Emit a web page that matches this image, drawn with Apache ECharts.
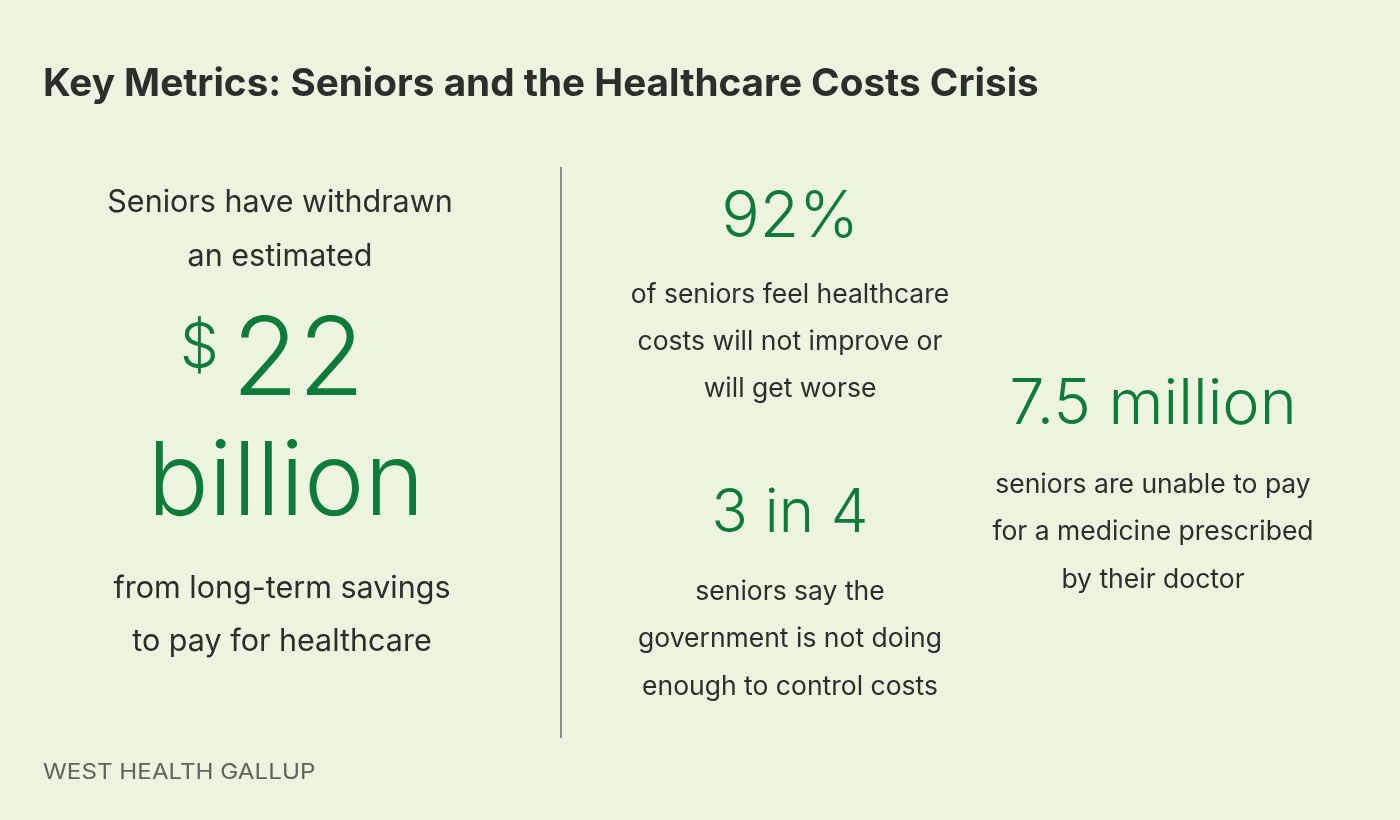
<!DOCTYPE html>
<html><head><meta charset="utf-8">
<script src="https://cdn.jsdelivr.net/npm/echarts@6/dist/echarts.min.js"></script>
<style>html,body{margin:0;padding:0;background:#ECF4DF}#c{width:1400px;height:820px}</style>
</head><body><div id="c"></div>
<script>
const title = 'Key Metrics: Seniors and the Healthcare Costs Crisis';
const source = 'WEST HEALTH GALLUP';
const savingsIntro = ['Seniors have withdrawn', 'an estimated'];
const savingsCurrency = '$';
const savingsValue = '22';
const savingsUnit = 'billion';
const savingsOutro = ['from long-term savings', 'to pay for healthcare'];
const pctValue = '92%';
const pctText = ['of seniors feel healthcare', 'costs will not improve or', 'will get worse'];
const ratioValue = '3 in 4';
const ratioText = ['seniors say the', 'government is not doing', 'enough to control costs'];
const countValue = '7.5 million';
const countText = ['seniors are unable to pay', 'for a medicine prescribed', 'by their doctor'];

const GREEN = '#0F7B3B', DARK = '#2B2E2B', FONT = 'Inter';
// place text by its baseline
function txt(x, base, s, size, color, weight, align, extra) {
  return Object.assign({ type: 'text', x: x, y: base - 0.85 * size + 2, style: { text: s, fill: color, font: (weight || 'normal') + ' ' + size + 'px ' + FONT, textAlign: align || 'center', verticalAlign: 'top' } }, extra || {});
}
const g = [];
g.push(txt(43, 96, title, 38.7, DARK, 'bold', 'left'));
savingsIntro.forEach((s, i) => g.push(txt(280, 211 + i * 54, s, 30.5, DARK)));
g.push(txt(219, 368, savingsCurrency, 62, GREEN, '300', 'right'));
g.push(txt(232, 398, savingsValue, 108, GREEN, '300', 'left'));
g.push(txt(286, 518, savingsUnit, 102, GREEN, '300'));
savingsOutro.forEach((s, i) => g.push(txt(282, 597 + i * 53, s, 30.5, DARK)));
g.push({ type: 'line', shape: { x1: 561, y1: 167, x2: 561, y2: 738 }, style: { stroke: '#8A9488', lineWidth: 2 } });
g.push(txt(790, 238, pctValue, 64, GREEN, '300'));
pctText.forEach((s, i) => g.push(txt(790, 302 + i * 47, s, 26.5, DARK)));
g.push(txt(790, 533, ratioValue, 60, GREEN, '300'));
ratioText.forEach((s, i) => g.push(txt(790, 599 + i * 47.5, s, 26.5, DARK)));
g.push(txt(1153, 425, countValue, 63, GREEN, '300'));
countText.forEach((s, i) => g.push(txt(1153, 492 + i * 47.5, s, 26.5, DARK)));
g.push(txt(43, 778, source, 22, '#5E665A', 'normal', 'left', { scaleX: 1.1 }));

const chart = echarts.init(document.getElementById('c'));
chart.setOption({ backgroundColor: '#ECF4DF', animation: false, graphic: { elements: g } });
</script></body></html>
